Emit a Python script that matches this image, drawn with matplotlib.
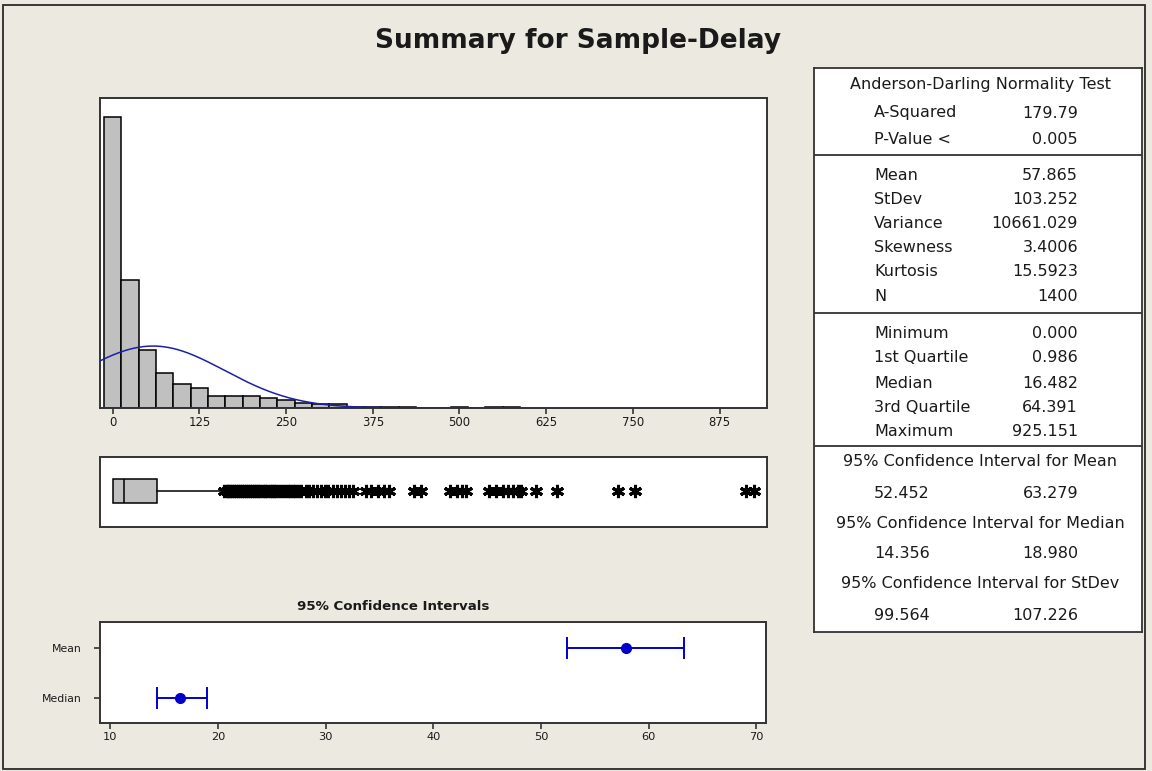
import matplotlib
matplotlib.use("Agg")
import matplotlib.pyplot as plt
import numpy as np
from matplotlib.patches import Rectangle

# --- data --------------------------------------------------------------
bin_width = 25
bin_centers = [0, 25, 50, 75, 100, 125, 150, 175, 200, 225, 250, 275,
               300, 325, 350, 375, 400, 425, 450, 475, 500, 525, 550, 575]
bin_counts = [636, 279, 126, 77, 52, 43, 26, 26, 26, 21, 17, 12,
              8, 8, 3, 2, 2, 2, 0, 0, 2, 0, 2, 2]
hist_ticks = [0, 125, 250, 375, 500, 625, 750, 875]

n_obs = 1400
mean = 57.865
stdev = 103.252
minimum, q1, median, q3, maximum = 0.000, 0.986, 16.482, 64.391, 925.151
whisker_hi = 158.8
outliers = [161, 164, 166, 169, 172, 175, 177, 180, 183, 186, 189, 192, 195,
            198, 201, 204, 207, 210, 213, 216, 219, 222, 226, 229, 233, 236,
            240, 244, 248, 252, 256, 260, 263, 267, 272, 278, 283, 289, 294,
            300, 306, 311, 317, 323, 329, 335, 341, 347,
            365, 372, 382, 391, 399, 434, 444, 486, 496, 503, 509,
            542, 553, 563, 570, 577, 585, 589, 611, 640, 729, 753, 913, 925]

ci_labels = ["Mean", "Median"]
ci_centers = [57.865, 16.482]
ci_lo = [52.452, 14.356]
ci_hi = [63.279, 18.980]
ci_ticks = [10, 20, 30, 40, 50, 60, 70]

ad_rows = [("A-Squared", "179.79"), ("P-Value <", "0.005")]
moment_rows = [("Mean", "57.865"), ("StDev", "103.252"), ("Variance", "10661.029"),
               ("Skewness", "3.4006"), ("Kurtosis", "15.5923"), ("N", "1400")]
quantile_rows = [("Minimum", "0.000"), ("1st Quartile", "0.986"), ("Median", "16.482"),
                 ("3rd Quartile", "64.391"), ("Maximum", "925.151")]
ci_rows = [("95% Confidence Interval for Mean", "52.452", "63.279"),
           ("95% Confidence Interval for Median", "14.356", "18.980"),
           ("95% Confidence Interval for StDev", "99.564", "107.226")]

# --- style --------------------------------------------------------------
BG = "#ECE9E0"
SPINE = "#333333"
BLUE = "#1E1EAA"
CI_BLUE = "#0000CC"
TXT = "#1a1a1a"
plt.rcParams["font.family"] = "DejaVu Sans"

W, H = 1152, 771
fig = plt.figure(figsize=(W / 100, H / 100), dpi=100, facecolor=BG)


def px_axes(x0, y0, x1, y1):
    return fig.add_axes([x0 / W, 1 - y1 / H, (x1 - x0) / W, (y1 - y0) / H])


def frame(ax, lw=1.4):
    for s in ax.spines.values():
        s.set_color(SPINE)
        s.set_linewidth(lw)


fig.patches.append(Rectangle((3 / W, 1 - 769 / H), 1142 / W, 764 / H,
                             transform=fig.transFigure, fill=False,
                             edgecolor="#2a2a2a", lw=1.3))
fig.text(578 / W, 1 - 48 / H, "Summary for Sample-Delay", ha="center",
         va="baseline", fontsize=19, fontweight="bold", color=TXT)

# histogram with fitted normal curve
ax = px_axes(99.5, 98.3, 767, 408)
ax.bar(bin_centers, bin_counts, width=bin_width, color="#C0C0C0",
       edgecolor="black", lw=1.1, zorder=2)
xs = np.linspace(-19, 440, 400)
ys = n_obs * bin_width * np.exp(-0.5 * ((xs - mean) / stdev) ** 2) / (stdev * np.sqrt(2 * np.pi))
ax.plot(xs, ys, color=BLUE, lw=1.1, zorder=3)
ax.set_xlim(-19.2, 943.5)
ax.set_ylim(0, 676)
ax.set_xticks(hist_ticks)
ax.set_yticks([])
ax.tick_params(axis="x", length=4, width=1.2, color=SPINE, labelsize=8.4,
               labelcolor=TXT, pad=2)
frame(ax)

# boxplot
ax = px_axes(99.5, 456.7, 767, 527)
ax.bxp([{"med": median, "q1": q1, "q3": q3, "whislo": minimum,
         "whishi": whisker_hi, "fliers": outliers}],
       positions=[1.033], widths=0.68, orientation="horizontal",
       showcaps=False, patch_artist=True,
       boxprops=dict(facecolor="#C0C0C0", edgecolor="black", lw=1.1),
       medianprops=dict(color="black", lw=1.1),
       whiskerprops=dict(color="black", lw=1.1),
       flierprops=dict(marker=(6, 2, 0), markersize=9.5, markeredgewidth=2.2,
                       markeredgecolor="black", color="black"))
ax.set_xlim(-19.2, 943.5)
ax.set_ylim(0, 2)
ax.set_xticks([])
ax.set_yticks([])
frame(ax)

# confidence intervals
ax = px_axes(99.5, 622.3, 766, 722.7)
ypos = [1, 0]
for y, c, lo, hi in zip(ypos, ci_centers, ci_lo, ci_hi):
    ax.errorbar([c], [y], xerr=[[c - lo], [hi - c]], fmt="o", color=CI_BLUE,
                ms=7, elinewidth=1.4, capsize=8, capthick=1.4)
ax.set_xlim(8.98, 70.9)
ax.set_ylim(-0.49, 1.52)
ax.set_xticks(ci_ticks)
ax.set_yticks(ypos)
ax.set_yticklabels(ci_labels)
ax.tick_params(axis="x", length=4, width=1.2, color=SPINE, labelsize=8.2,
               labelcolor=TXT, pad=3)
ax.tick_params(axis="y", length=4, width=1.2, color=SPINE, labelsize=7.8,
               labelcolor=TXT, pad=9)
frame(ax)
fig.text(393 / W, 1 - 606 / H, "95% Confidence Intervals", ha="center",
         va="center", fontsize=9.6, fontweight="bold", color=TXT)

# statistics table (pixel coordinates)
ax = px_axes(814, 68, 1141.5, 631.7)
ax.set_xlim(814, 1141.5)
ax.set_ylim(631.7, 68)
ax.set_xticks([])
ax.set_yticks([])
ax.set_facecolor("white")
frame(ax, lw=1.3)
for y in (155, 313, 446):
    ax.axhline(y, color=SPINE, lw=1.3)

fs = 11.5
lab_x, val_x, mid_x = 874, 1078, 980
ax.text(mid_x, 84, "Anderson-Darling Normality Test", ha="center", va="center",
        fontsize=fs, color=TXT)
for y, (lab, val) in zip([113, 139], ad_rows):
    ax.text(lab_x, y, lab, ha="left", va="center", fontsize=fs, color=TXT)
    ax.text(val_x, y, val, ha="right", va="center", fontsize=fs, color=TXT)
for y, (lab, val) in zip([175, 199, 223.5, 248, 272, 296.5], moment_rows):
    ax.text(lab_x, y, lab, ha="left", va="center", fontsize=fs, color=TXT)
    ax.text(val_x, y, val, ha="right", va="center", fontsize=fs, color=TXT)
for y, (lab, val) in zip([333, 357.5, 383, 408, 432], quantile_rows):
    ax.text(lab_x, y, lab, ha="left", va="center", fontsize=fs, color=TXT)
    ax.text(val_x, y, val, ha="right", va="center", fontsize=fs, color=TXT)
for (yh, yv), (head, lo, hi) in zip([(462, 493), (523, 553), (584, 615)], ci_rows):
    ax.text(mid_x, yh, head, ha="center", va="center", fontsize=fs, color=TXT)
    ax.text(lab_x, yv, lo, ha="left", va="center", fontsize=fs, color=TXT)
    ax.text(val_x, yv, hi, ha="right", va="center", fontsize=fs, color=TXT)

fig.savefig("out.png", dpi=100, facecolor=BG)
